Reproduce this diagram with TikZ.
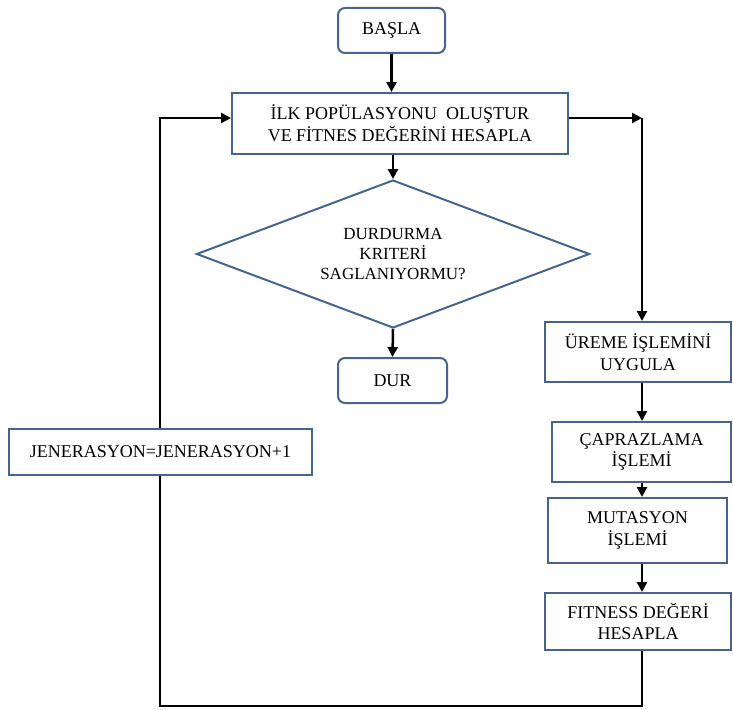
\documentclass[tikz,border=0pt]{standalone}
\usepackage{fontspec}
\setmainfont{Liberation Serif}
\usetikzlibrary{shapes.geometric,arrows.meta}
\definecolor{boxblue}{RGB}{70,100,145}
\tikzset{
  every node/.style={font=\fontsize{18}{21.7}\selectfont, align=center, inner sep=0pt},
  termbox/.style={draw=boxblue, line width=2pt, fill=white, rounded corners=7pt},
  procbox/.style={draw=boxblue, line width=2pt, fill=white},
  decbox/.style={draw=boxblue, line width=2pt, fill=white, diamond, shape aspect=2.65,
    font=\fontsize{17}{20}\selectfont},
  flow/.style={line width=2.5pt, draw=black},
  arr/.style={flow, -{Triangle[length=10pt,width=10pt]}},
}
\begin{document}
\begin{tikzpicture}[x=1pt,y=-1pt]
\useasboundingbox (0,0) rectangle (733,709);

% main column
\node[termbox, minimum width=107pt, minimum height=45pt] (basla) at (391.5,30.5) {BAŞLA};
\node[procbox, minimum width=336pt, minimum height=61pt] (init) at (400,123.5)
  {İLK POPÜLASYONU \ OLUŞTUR\\VE FİTNES DEĞERİNİ HESAPLA};
\node[decbox, minimum width=393pt, minimum height=148pt] (dec) at (393,254)
  {DURDURMA\\KRITERİ\\SAGLANIYORMU?};
\node[termbox, minimum width=109pt, minimum height=45pt] (dur) at (392.5,380.5) {DUR};

% right column: genetic operators
\node[procbox, minimum width=186pt, minimum height=60pt] (ureme) at (638,352) {ÜREME İŞLEMİNİ\\UYGULA};
\node[procbox, minimum width=179pt, minimum height=60pt] (capraz) at (641.5,452) {ÇAPRAZLAMA\\İŞLEMİ};
\node[procbox, minimum width=179pt, minimum height=65pt] (mut) at (637.5,530.5) {MUTASYON\\İŞLEMİ};
\node[procbox, minimum width=186pt, minimum height=57pt] (fit) at (638,621.5) {FITNESS DEĞERİ\\HESAPLA};

% left: generation counter
\node[procbox, minimum width=303pt, minimum height=46pt] (jen) at (160.5,452) {JENERASYON=JENERASYON+1};

% routing points
\coordinate (r1) at (642,118);
\coordinate (l1) at (160,118);
\coordinate (b1) at (642,706);
\coordinate (b2) at (160,706);

% connectors
\draw[arr] (basla.south) -- (basla.south |- init.north);
\draw[arr] (dec.north |- init.south) -- (dec.north);
\draw[arr] (dec.south) -- (dur.north);
\draw[arr] (init.east |- r1) -- (r1);
\draw[arr] (r1) -- (ureme.north -| r1);
\draw[arr] (ureme.south -| r1) -- (capraz.north -| r1);
\draw[arr] (capraz.south -| r1) -- (mut.north -| r1);
\draw[arr] (mut.south -| r1) -- (fit.north -| r1);
\draw[flow] (fit.south -| b1) -- (b1) -- (b2) -- (jen.south -| b2);
\draw[arr] (jen.north -| l1) -- (l1) -- (init.west |- l1);
\end{tikzpicture}
\end{document}
